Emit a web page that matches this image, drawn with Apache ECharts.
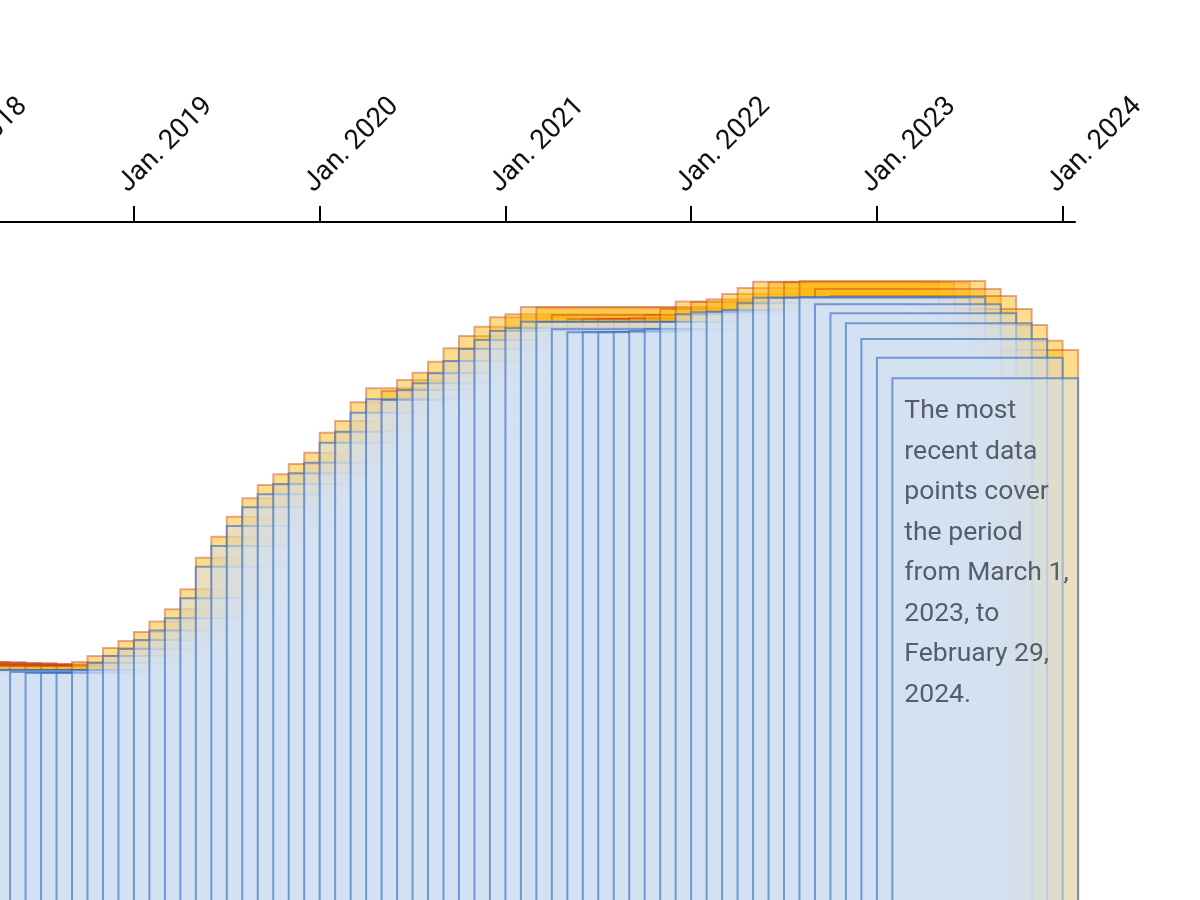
<!DOCTYPE html>
<html>
<head>
<meta charset="utf-8">
<script src="https://cdn.jsdelivr.net/npm/echarts@6/dist/echarts.min.js"></script>
<style>
html,body{margin:0;padding:0;background:#ffffff;}
#chart{width:1200px;height:900px;}
</style>
</head>
<body>
<div id="chart"></div>
<script>
// Month index of each 12-month window's first month (0 = Jan. 2018)
const windowStart = [-8,-7,-6,-5,-4,-3,-2,-1,0,1,2,3,4,5,6,7,8,9,10,11,12,13,14,15,16,17,18,19,20,21,22,23,24,25,26,27,28,29,30,31,32,33,34,35,36,37,38,39,40,41,42,43,44,45,46,47,48,49,50,51,52,53,54,55,56,57,58,59,60,61];
// Upper (yellow) estimate for each window
const upperValues = [238,238,237,237,236,236,235,235,235,235,234,234,234,234,234,234,238,244,252,259,268,278.5,290.7,310.7,342.3,363.3,383.3,401.7,415,425.7,436,447.3,467.3,479,497.7,511.7,509,520,527.3,538.3,551.7,564,573.3,582.7,585.7,593,592.5,585,581,581,581,581,582,585,591,598.5,598,600.7,606,612,618.3,617.7,617.7,619,611,604,591,575,559.3,550];
// Lower (blue) estimate for each window
const lowerValues = [229,228,220,224,227,227,228,228,229,230,230,230,228,227,227,227,230,237,244,251,260,269.5,281.7,301.7,333.3,354,374,392.7,405.7,416,426.7,437.3,457.3,468.3,487.3,500.7,500,510,516.7,526.7,539,551,560,569,571.7,578.3,578,570.7,567.7,567.7,567.7,568,569,571,578,585.7,587.7,588.3,590,596.7,602.3,602.3,602.3,602.7,595.7,586.7,576.7,561,542.3,521.7];
const windowLength = 12;
const tickMonths = [0,12,24,36,48,60,72];
const tickLabels = ['Jan. 2018','Jan. 2019','Jan. 2020','Jan. 2021','Jan. 2022','Jan. 2023','Jan. 2024'];
const noteLines = ['The most','recent data','points cover','the period','from March 1,','2023, to','February 29,','2024.'];

const upperData = windowStart.map((s, i) => [s, upperValues[i]]);
const lowerData = windowStart.map((s, i) => [s, lowerValues[i]]);

function makeRender(kind) {
  return function (params, api) {
    const s = api.value(0);
    const v = api.value(1);
    const p0 = api.coord([s, v]);
    const p1 = api.coord([s + windowLength, 0]);
    const rect = {
      type: 'rect',
      shape: { x: p0[0], y: p0[1], width: p1[0] - p0[0], height: p1[1] - p0[1] + 6 },
      style: kind === 'upper'
        ? { fill: 'rgba(255,185,20,0.5)', stroke: 'rgba(200,70,30,0.45)', lineWidth: 2 }
        : { fill: 'rgba(211,226,244,0.5)', stroke: 'rgba(60,110,195,0.65)', lineWidth: 2 }
    };
    if (kind === 'lower' && params.dataIndex === windowStart.length - 1) {
      return {
        type: 'group',
        children: [rect, {
          type: 'text',
          x: p0[0] + 12,
          y: p0[1] + 13,
          style: {
            text: noteLines.join('\n'),
            fontSize: 26.5,
            fontFamily: 'Roboto',
            lineHeight: 40.5,
            fill: '#565d66',
            align: 'left',
            verticalAlign: 'top'
          }
        }]
      };
    }
    return rect;
  };
}

const chart = echarts.init(document.getElementById('chart'), null, { renderer: 'canvas' });
chart.setOption({
  animation: false,
  backgroundColor: '#ffffff',
  grid: { left: -51.8, right: 125, top: 222, bottom: 0, containLabel: false, outerBoundsMode: 'none' },
  xAxis: {
    type: 'value',
    position: 'top',
    min: 0,
    max: 72.8,
    splitLine: { show: false },
    axisLine: { show: true, onZero: false, lineStyle: { color: '#000', width: 2 } },
    axisTick: { show: true, inside: false, length: 16, customValues: tickMonths, lineStyle: { color: '#000', width: 2 } },
    axisLabel: {
      customValues: tickMonths,
      formatter: function (v) { return tickLabels[tickMonths.indexOf(v)] || ''; },
      rotate: -45,
      margin: 23,
      fontSize: 27.5,
      fontFamily: 'Roboto',
      color: '#111',
      align: 'left',
      verticalAlign: 'bottom',
      lineHeight: 31
    }
  },
  yAxis: { type: 'value', min: 0, max: 678, show: false },
  series: [
    { type: 'custom', name: 'upper', renderItem: makeRender('upper'), data: upperData, clip: false, z: 1, silent: true },
    { type: 'custom', name: 'lower', renderItem: makeRender('lower'), data: lowerData, clip: false, z: 2, silent: true }
  ]
});
</script>
</body>
</html>
